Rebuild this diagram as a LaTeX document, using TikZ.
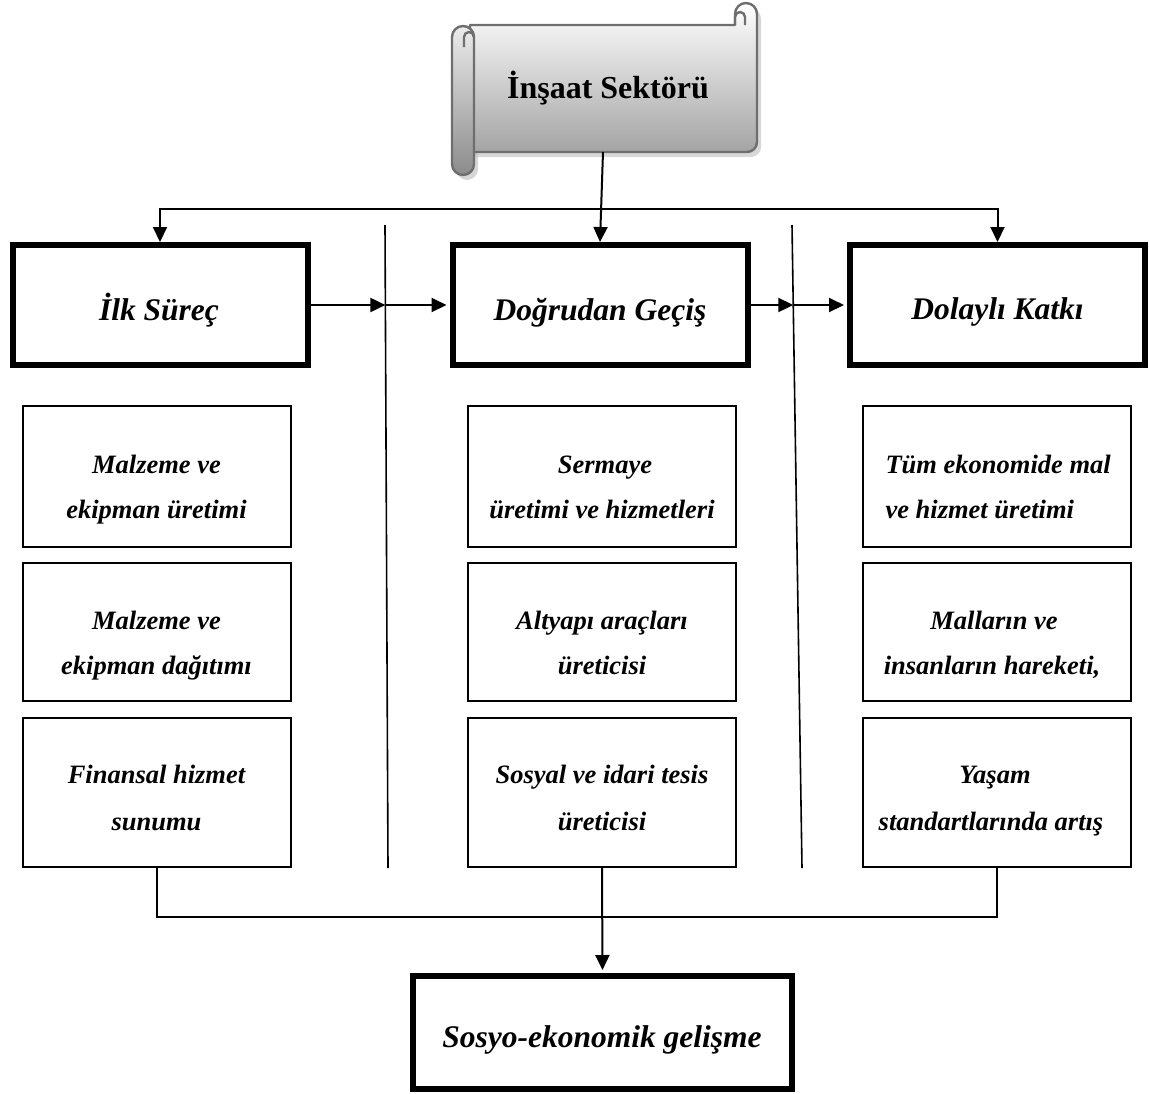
\documentclass[tikz,border=0pt]{standalone}
\usepackage{fontspec}
\setmainfont{Liberation Serif}
\usetikzlibrary{arrows.meta}
\definecolor{scrollline}{HTML}{6E6E6E}
\definecolor{scrolldark}{HTML}{A4A4A4}
\begin{document}
\begin{tikzpicture}[x=1pt,y=-1pt,
  arr/.style={line width=2pt,-{Triangle[length=15pt,width=14pt]}},
  link/.style={line width=2pt},
  sep/.style={line width=1.6pt},
  bigbox/.style={draw,line width=6pt,inner sep=0pt,minimum width=295pt,minimum height=120pt},
  smallbox/.style={draw,line width=2pt,inner sep=0pt,minimum width=268pt},
  headtext/.style={anchor=base,font=\bfseries\itshape\fontsize{31.5}{36}\selectfont},
  celltext/.style={anchor=base,font=\bfseries\itshape\fontsize{26.5}{30}\selectfont},
  scrollshape/.style={draw=scrollline,line width=2.4pt,line join=round}
]
\useasboundingbox (0,0) rectangle (1149,1093);

% ---------- scroll with the title ----------
\begin{scope}[shift={(4,5)}]
  \fill[gray!45,opacity=0.7] (470,25) -- (735,25) -- (735,14) arc[start angle=180,end angle=360,radius=11]
     -- (757,142) arc[start angle=0,end angle=90,radius=10] -- (470,152) -- cycle;
  \fill[gray!45,opacity=0.7] (452,37) arc[start angle=180,end angle=360,radius=11]
     -- (474,164) arc[start angle=0,end angle=180,radius=11] -- cycle;
\end{scope}
\shade[top color=white,bottom color=scrolldark,scrollshape]
  (470,25) -- (735,25) -- (735,14) arc[start angle=180,end angle=360,radius=11]
  -- (757,142) arc[start angle=0,end angle=90,radius=10] -- (470,152) -- cycle;
\draw[scrollshape] (745,25) -- (745,17) arc[start angle=0,end angle=-180,radius=5] -- (735,25);
\shade[top color=gray!15,bottom color=scrolldark!85!black,scrollshape]
  (452,37) arc[start angle=180,end angle=360,radius=11]
  -- (474,164) arc[start angle=0,end angle=180,radius=11] -- cycle;
\draw[scrollshape] (464,47) -- (464,37) arc[start angle=180,end angle=360,radius=5];
\node[anchor=base,font=\bfseries\fontsize{32}{38}\selectfont] (title) at (608,98) {İnşaat Sektörü};
\coordinate (scrollfoot) at (603,152);

% ---------- main stages ----------
\node[bigbox] (ilk) at (160,305) {};
\node[bigbox] (dog) at (600,305) {};
\node[bigbox] (dol) at (997.5,305) {};
\node[headtext] (ilkT) at (159,320) {İlk Süreç};
\node[headtext] (dogT) at (600,320) {Doğrudan Geçiş};
\node[headtext] (dolT) at (997.5,319) {Dolaylı Katkı};

% distribution line from the scroll
\coordinate (split) at (600,209);
\draw[arr] (scrollfoot) -- (dog.north);
\draw[arr] (split) -| (ilk.north);
\draw[arr] (split) -| (dol.north);

% column separators
\coordinate (sepLt) at (385,225);
\coordinate (sepLb) at (388,868);
\coordinate (sepRt) at (792,225);
\coordinate (sepRb) at (802,868);
\draw[sep] (sepLt) -- (sepLb);
\draw[sep] (sepRt) -- (sepRb);
\coordinate (sepL) at (385.4,305);
\coordinate (sepR) at (793.3,305);
\draw[arr] (ilk.east) -- (sepL);
\draw[arr,shorten >=3pt] (sepL) -- (dog.west);
\draw[arr] (dog.east) -- (sepR);
\draw[arr,shorten >=3pt] (sepR) -- (dol.west);

% ---------- detail boxes ----------
\node[smallbox,minimum height=141pt] (a1) at (156.5,476.5) {};
\node[smallbox,minimum height=138pt] (a2) at (156.5,632) {};
\node[smallbox,minimum height=149pt] (a3) at (156.5,792.5) {};
\node[smallbox,minimum height=141pt] (b1) at (602,476.5) {};
\node[smallbox,minimum height=138pt] (b2) at (602,632) {};
\node[smallbox,minimum height=149pt] (b3) at (602,792.5) {};
\node[smallbox,minimum height=141pt] (c1) at (996.5,476.5) {};
\node[smallbox,minimum height=138pt] (c2) at (996.5,632) {};
\node[smallbox,minimum height=149pt] (c3) at (996.5,792.5) {};

\node[celltext] (a1x) at (156.5,473) {Malzeme ve};
\node[celltext] (a1y) at (156.5,518) {ekipman üretimi};
\node[celltext] (a2x) at (156.5,629) {Malzeme ve};
\node[celltext] (a2y) at (156.5,674) {ekipman dağıtımı};
\node[celltext] (a3x) at (156.5,783) {Finansal hizmet};
\node[celltext] (a3y) at (156.5,830) {sunumu};

\node[celltext] (b1x) at (605,473) {Sermaye};
\node[celltext] (b1y) at (602,518) {üretimi ve hizmetleri};
\node[celltext] (b2x) at (602,629) {Altyapı araçları};
\node[celltext] (b2y) at (602,674) {üreticisi};
\node[celltext] (b3x) at (602,783) {Sosyal ve idari tesis};
\node[celltext] (b3y) at (602,830) {üreticisi};

\node[celltext,anchor=base west] (c1x) at (882,473) {Tüm ekonomide mal};
\node[celltext,anchor=base west] (c1y) at (882,518) {ve hizmet üretimi};
\node[celltext] (c2x) at (994,629) {Malların ve};
\node[celltext] (c2y) at (992,674) {insanların hareketi,};
\node[celltext] (c3x) at (995,783) {Yaşam};
\node[celltext] (c3y) at (991,830) {standartlarında artış};

% ---------- result ----------
\node[draw,line width=6pt,inner sep=0pt,minimum width=379pt,minimum height=113pt] (son) at (602.5,1032.5) {};
\node[headtext] (sonT) at (602,1047) {Sosyo-ekonomik gelişme};

\coordinate (join) at (602,917);
\draw[link] (a3.south) |- (join) -| (c3.south);
\draw[arr,shorten >=3pt] (b3.south) -- (son.north);
\end{tikzpicture}
\end{document}
